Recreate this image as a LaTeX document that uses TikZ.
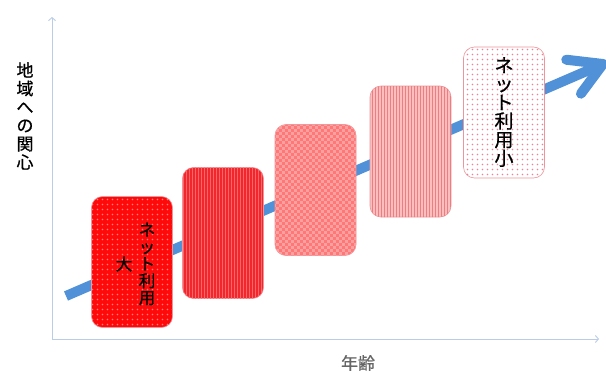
\documentclass[tikz,border=0pt]{standalone}
\usepackage{fontspec}
\newfontfamily\jp{Noto Sans CJK JP}[FakeBold=0.7]
\usetikzlibrary{patterns.meta,arrows.meta,calc}
\definecolor{axisc}{RGB}{185,205,230}
\definecolor{flow}{RGB}{80,145,215}
\definecolor{c1}{RGB}{255,10,10}
\definecolor{c1d}{RGB}{255,130,130}
\definecolor{c2}{RGB}{240,40,45}
\definecolor{c2d}{RGB}{255,100,105}
\definecolor{c3}{RGB}{255,120,120}
\definecolor{c3d}{RGB}{255,160,160}
\definecolor{c4}{RGB}{250,190,190}
\definecolor{c4d}{RGB}{238,125,130}
\definecolor{c5d}{RGB}{235,130,150}
\definecolor{edge}{RGB}{235,150,155}
\tikzdeclarepattern{name=mydots,type=uncolored,bottom left={(-.1pt,-.1pt)},top right={(5.1pt,5.1pt)},tile size={(5pt,5pt)},
  code={\fill (2.5pt,2.5pt) circle (0.8pt);}}
\tikzdeclarepattern{name=vstripes,type=uncolored,bottom left={(-.1pt,-.1pt)},top right={(3.1pt,3.1pt)},tile size={(3pt,3pt)},
  code={\fill (0pt,0pt) rectangle (1.3pt,3pt);}}
\tikzdeclarepattern{name=thinstripes,type=uncolored,bottom left={(-.1pt,-.1pt)},top right={(3.1pt,3.1pt)},tile size={(3pt,3pt)},
  code={\fill (0pt,0pt) rectangle (1pt,3pt);}}
\tikzdeclarepattern{name=checks,type=uncolored,bottom left={(-.1pt,-.1pt)},top right={(6.1pt,6.1pt)},tile size={(6pt,6pt)},
  code={\fill (0pt,0pt) rectangle (3pt,3pt); \fill (3pt,3pt) rectangle (6pt,6pt);}}
\tikzset{
  card/.style={draw=edge, line width=0.6pt, rounded corners=11pt, inner sep=0pt,
    minimum width=81pt, minimum height=131pt},
  axis/.style={draw=axisc, line width=0.9pt, -{Straight Barb[length=3pt,width=7pt]}},
  vtext/.style={align=center, inner sep=0pt},
}
\begin{document}
\begin{tikzpicture}[x=1pt,y=-1pt]
\useasboundingbox (0,0) rectangle (606,372);
% axes
\coordinate (o) at (52,339);
\coordinate (yt) at (52,17);
\coordinate (xt) at (599,339);
\draw[axis] (o) -- (yt);
\draw[axis] (o) -- (xt);
% flow arrow
\coordinate (as) at (66,296);
\coordinate (ae) at (603,64);
\draw[flow, line width=10pt] (as) -- (ae);
\draw[flow, line width=10pt, line cap=round, line join=round]
  ($(ae)!37pt!30:(as)$) -- (ae) -- ($(ae)!37pt!-30:(as)$);
% cards
\node[card, fill=c1, postaction={pattern=mydots, pattern color=c1d}] (b1) at (132,262) {};
\node[card, fill=c2, postaction={pattern=vstripes, pattern color=c2d}] (b2) at (223,233) {};
\node[card, fill=c3, postaction={pattern=checks, pattern color=c3d}] (b3) at (315.5,190) {};
\node[card, fill=c4, postaction={pattern=thinstripes, pattern color=c4d}] (b4) at (410.5,151.5) {};
\node[card, fill=white, postaction={pattern=mydots, pattern color=c5d}] (b5) at (504,112.5) {};
% texts
\node[vtext, font=\jp\fontsize{16.5}{17}\selectfont] (t1) at (147,264) {ネ\\ッ\\ト\\利\\用};
\node[inner sep=0pt, font=\jp\fontsize{16.5}{17}\selectfont] (t1b) at (124,264) {大};
\node[vtext, font=\jp\fontsize{19}{18.6}\selectfont] (t5) at (504,112) {ネ\\ッ\\ト\\利\\用\\小};
\node[vtext, font=\jp\fontsize{17}{18.4}\selectfont] (ylab) at (25,116) {地\\域\\へ\\の\\関\\心};
\node[inner sep=0pt, font=\jp\fontsize{17}{18}\selectfont, text=black!60] (xlab) at (358,363) {年齢};
\end{tikzpicture}
\end{document}
